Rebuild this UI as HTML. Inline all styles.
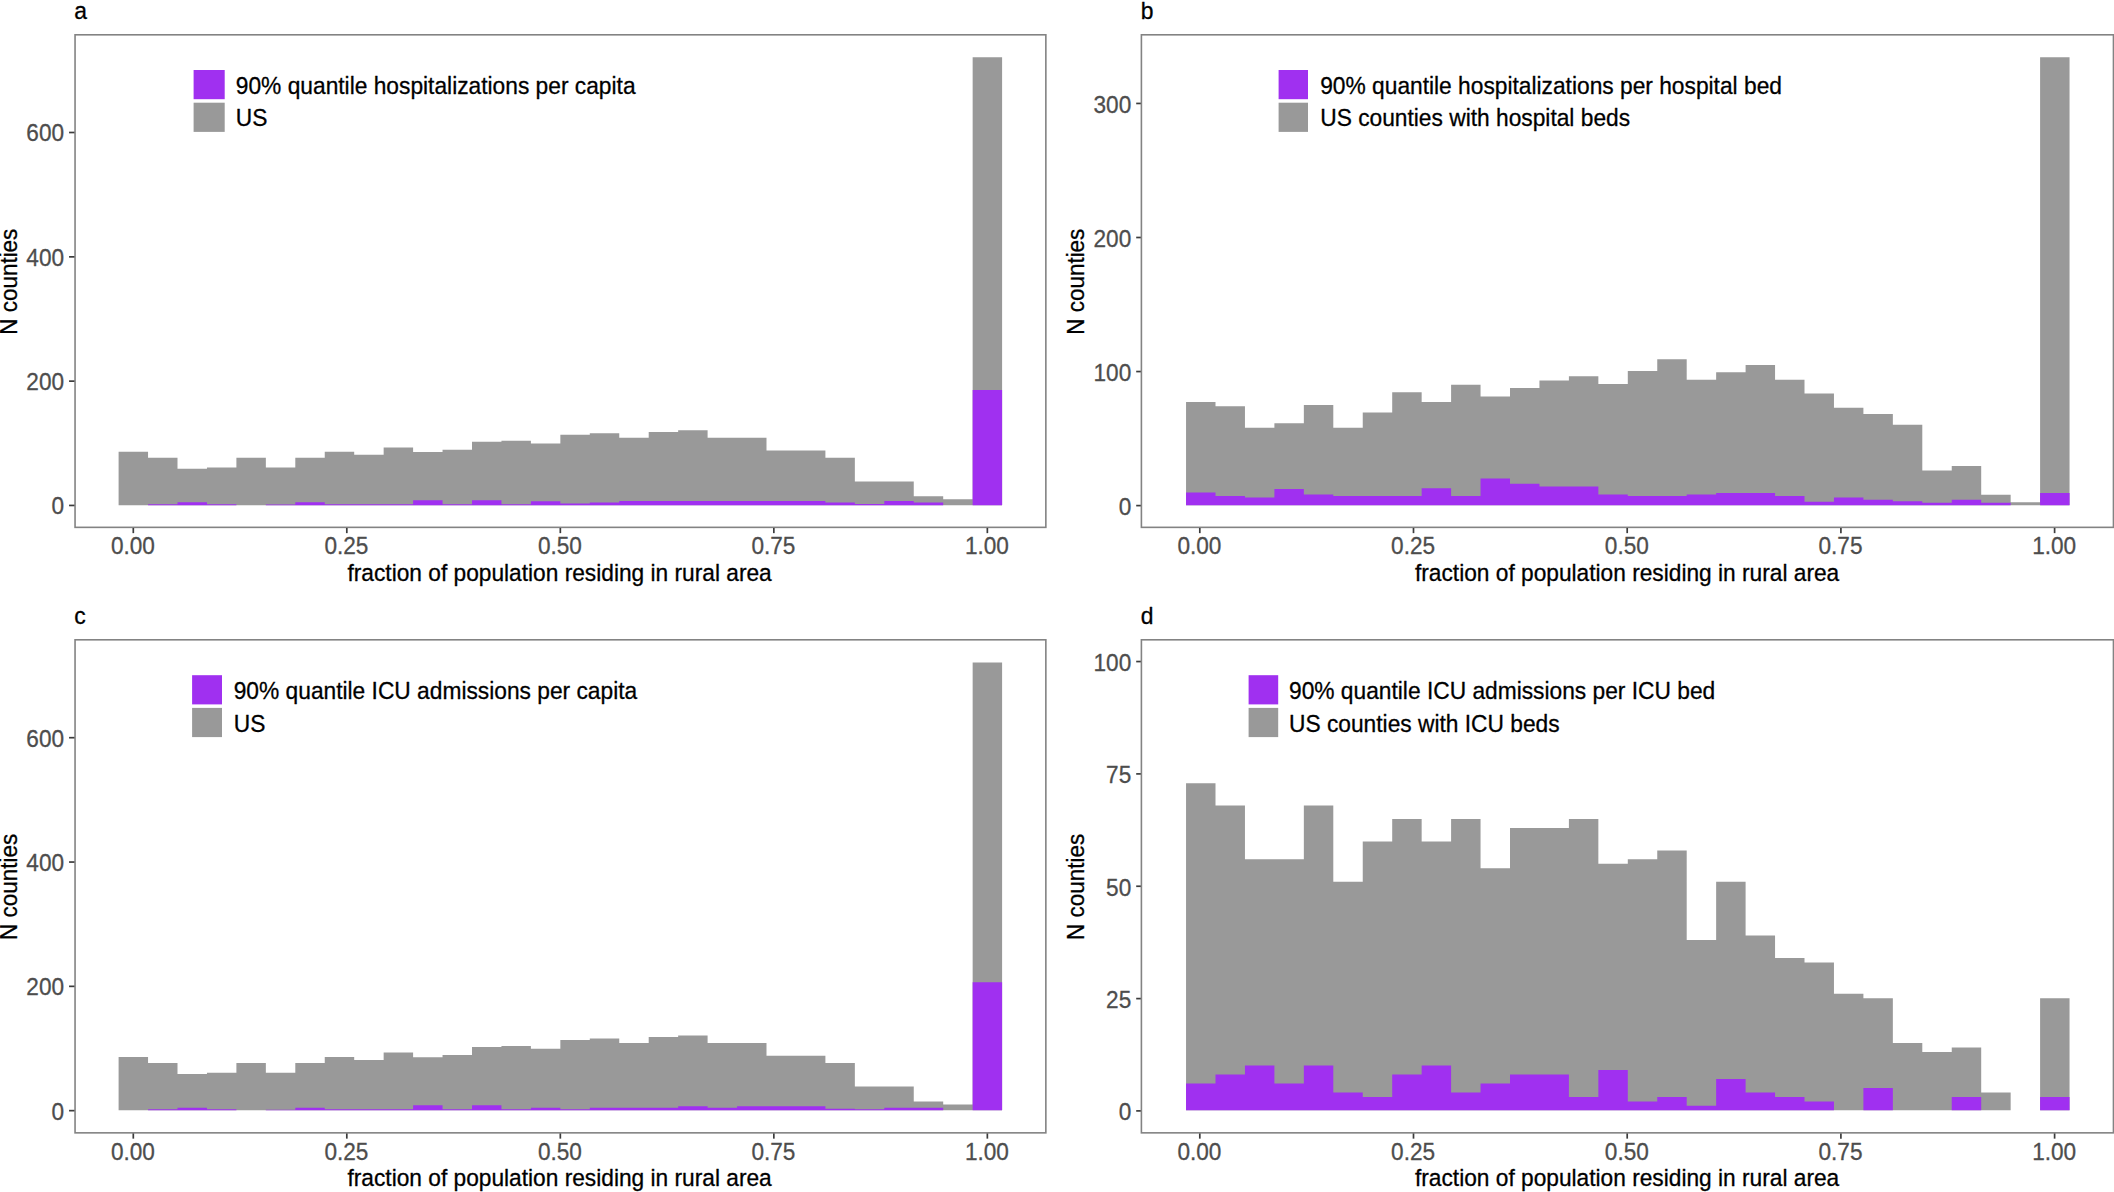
<!DOCTYPE html>
<html lang="en">
<head>
<meta charset="utf-8">
<title>Rural fraction histograms</title>
<style>
html,body{margin:0;padding:0;background:#fff;}
body{width:2114px;height:1192px;overflow:hidden;}
svg{display:block;}
svg text{font-family:"Liberation Sans",Arial,Helvetica,sans-serif;font-size:26.0px;stroke-width:0.3px;stroke-linejoin:round;}
.tick{font-size:24px;}
.leg{font-size:24.6px;}
.xt{font-size:23.5px;}
.yt{font-size:23.8px;}
.let{font-size:23.9px;}
</style>
</head>
<body>
<svg width="2114" height="1192" viewBox="0 0 2114 1192">
<rect width="2114" height="1192" fill="#fff"/>
<g>
<path d="M118.6 505.15 L118.6 451.7 L148.05 451.7 L148.05 457.8 L177.5 457.8 L177.5 468.7 L206.95 468.7 L206.95 467.5 L236.4 467.5 L236.4 457.8 L265.85 457.8 L265.85 467.5 L295.3 467.5 L295.3 457.8 L324.75 457.8 L324.75 451.7 L354.2 451.7 L354.2 454.7 L383.65 454.7 L383.65 447.4 L413.1 447.4 L413.1 452.1 L442.55 452.1 L442.55 449.7 L472 449.7 L472 441.8 L501.45 441.8 L501.45 440.7 L530.9 440.7 L530.9 443.6 L560.35 443.6 L560.35 434.7 L589.8 434.7 L589.8 433.2 L619.25 433.2 L619.25 437.7 L648.7 437.7 L648.7 431.9 L678.15 431.9 L678.15 430.3 L707.6 430.3 L707.6 437.7 L737.05 437.7 L737.05 437.7 L766.5 437.7 L766.5 450.6 L795.95 450.6 L795.95 450.6 L825.4 450.6 L825.4 457.7 L854.85 457.7 L854.85 481.4 L884.3 481.4 L884.3 481.4 L913.75 481.4 L913.75 496.3 L943.2 496.3 L943.2 499.3 L972.65 499.3 L972.65 57.2 L1002.1 57.2 L1002.1 505.15 Z" fill="#999999"/>
<path d="M118.6 505.15 L118.6 505.15 L148.05 505.15 L148.05 504.15 L177.5 504.15 L177.5 502.35 L206.95 502.35 L206.95 504.15 L236.4 504.15 L236.4 505.15 L265.85 505.15 L265.85 504.55 L295.3 504.55 L295.3 502.35 L324.75 502.35 L324.75 504.15 L354.2 504.15 L354.2 504.15 L383.65 504.15 L383.65 504.15 L413.1 504.15 L413.1 500.15 L442.55 500.15 L442.55 504.15 L472 504.15 L472 500.15 L501.45 500.15 L501.45 504.15 L530.9 504.15 L530.9 501.15 L560.35 501.15 L560.35 503.55 L589.8 503.55 L589.8 502.45 L619.25 502.45 L619.25 500.95 L648.7 500.95 L648.7 500.95 L678.15 500.95 L678.15 500.95 L707.6 500.95 L707.6 500.95 L737.05 500.95 L737.05 500.95 L766.5 500.95 L766.5 500.95 L795.95 500.95 L795.95 500.95 L825.4 500.95 L825.4 502.45 L854.85 502.45 L854.85 503.95 L884.3 503.95 L884.3 500.95 L913.75 500.95 L913.75 502.45 L943.2 502.45 L943.2 505.15 L972.65 505.15 L972.65 390.05 L1002.1 390.05 L1002.1 505.15 Z" fill="#a030f0"/>
<rect x="75.05" y="34.8" width="970.8" height="492.55" fill="none" stroke="#838383" stroke-width="1.6"/>
<line x1="69.05" y1="505.45" x2="74.45" y2="505.45" stroke="#3c3c3c" stroke-width="1.7"/>
<text class="tick" transform="translate(64.05 514.35) scale(0.9417 1)" text-anchor="end" fill="#4d4d4d" stroke="#4d4d4d">0</text>
<line x1="69.05" y1="381.15" x2="74.45" y2="381.15" stroke="#3c3c3c" stroke-width="1.7"/>
<text class="tick" transform="translate(64.05 390.05) scale(0.9417 1)" text-anchor="end" fill="#4d4d4d" stroke="#4d4d4d">200</text>
<line x1="69.05" y1="256.85" x2="74.45" y2="256.85" stroke="#3c3c3c" stroke-width="1.7"/>
<text class="tick" transform="translate(64.05 265.75) scale(0.9417 1)" text-anchor="end" fill="#4d4d4d" stroke="#4d4d4d">400</text>
<line x1="69.05" y1="132.5" x2="74.45" y2="132.5" stroke="#3c3c3c" stroke-width="1.7"/>
<text class="tick" transform="translate(64.05 141.4) scale(0.9417 1)" text-anchor="end" fill="#4d4d4d" stroke="#4d4d4d">600</text>
<line x1="133.3" y1="527.95" x2="133.3" y2="533.15" stroke="#3c3c3c" stroke-width="1.7"/>
<text class="tick" transform="translate(132.9 554) scale(0.9417 1)" text-anchor="middle" fill="#4d4d4d" stroke="#4d4d4d">0.00</text>
<line x1="346.81" y1="527.95" x2="346.81" y2="533.15" stroke="#3c3c3c" stroke-width="1.7"/>
<text class="tick" transform="translate(346.41 554) scale(0.9417 1)" text-anchor="middle" fill="#4d4d4d" stroke="#4d4d4d">0.25</text>
<line x1="560.33" y1="527.95" x2="560.33" y2="533.15" stroke="#3c3c3c" stroke-width="1.7"/>
<text class="tick" transform="translate(559.93 554) scale(0.9417 1)" text-anchor="middle" fill="#4d4d4d" stroke="#4d4d4d">0.50</text>
<line x1="773.84" y1="527.95" x2="773.84" y2="533.15" stroke="#3c3c3c" stroke-width="1.7"/>
<text class="tick" transform="translate(773.44 554) scale(0.9417 1)" text-anchor="middle" fill="#4d4d4d" stroke="#4d4d4d">0.75</text>
<line x1="987.35" y1="527.95" x2="987.35" y2="533.15" stroke="#3c3c3c" stroke-width="1.7"/>
<text class="tick" transform="translate(986.95 554) scale(0.9417 1)" text-anchor="middle" fill="#4d4d4d" stroke="#4d4d4d">1.00</text>
<text class="xt" transform="translate(559.6 580.8) scale(0.9668 1)" text-anchor="middle" fill="#000" stroke="#000">fraction of population residing in rural area</text>
<text class="yt" transform="translate(17 281.7) rotate(-90) scale(0.9433 1)" text-anchor="middle" fill="#000" stroke="#000">N counties</text>
<text class="let" transform="translate(74.2 18.6) scale(0.9582 1)" fill="#000" stroke="#000">a</text>
<rect x="193.6" y="70" width="31.1" height="29.2" fill="#a030f0"/>
<rect x="193.6" y="102.7" width="31.1" height="29.2" fill="#999999"/>
<text class="leg" transform="translate(235.8 94.2) scale(0.9256 1)" fill="#000" stroke="#000">90% quantile hospitalizations per capita</text>
<text class="leg" transform="translate(235.8 126.4) scale(0.9256 1)" fill="#000" stroke="#000">US</text>
</g>
<g>
<path d="M1186.05 505.15 L1186.05 402.1 L1215.5 402.1 L1215.5 406.3 L1244.95 406.3 L1244.95 427.8 L1274.4 427.8 L1274.4 423.3 L1303.85 423.3 L1303.85 405.1 L1333.3 405.1 L1333.3 427.8 L1362.75 427.8 L1362.75 412.4 L1392.2 412.4 L1392.2 392.2 L1421.65 392.2 L1421.65 402.1 L1451.1 402.1 L1451.1 384.7 L1480.55 384.7 L1480.55 396.5 L1510 396.5 L1510 388.1 L1539.45 388.1 L1539.45 380.6 L1568.9 380.6 L1568.9 376.3 L1598.35 376.3 L1598.35 383.9 L1627.8 383.9 L1627.8 371 L1657.25 371 L1657.25 359.2 L1686.7 359.2 L1686.7 379.7 L1716.15 379.7 L1716.15 372.2 L1745.6 372.2 L1745.6 365 L1775.05 365 L1775.05 379.7 L1804.5 379.7 L1804.5 393.4 L1833.95 393.4 L1833.95 407.8 L1863.4 407.8 L1863.4 413.9 L1892.85 413.9 L1892.85 424.8 L1922.3 424.8 L1922.3 470.5 L1951.75 470.5 L1951.75 466.1 L1981.2 466.1 L1981.2 494.7 L2010.65 494.7 L2010.65 502.3 L2040.1 502.3 L2040.1 57.2 L2069.55 57.2 L2069.55 505.15 Z" fill="#999999"/>
<path d="M1186.05 505.15 L1186.05 492.6 L1215.5 492.6 L1215.5 495.9 L1244.95 495.9 L1244.95 497.4 L1274.4 497.4 L1274.4 489.1 L1303.85 489.1 L1303.85 494.4 L1333.3 494.4 L1333.3 495.9 L1362.75 495.9 L1362.75 495.9 L1392.2 495.9 L1392.2 495.9 L1421.65 495.9 L1421.65 488.3 L1451.1 488.3 L1451.1 495.9 L1480.55 495.9 L1480.55 478.5 L1510 478.5 L1510 483.8 L1539.45 483.8 L1539.45 486.4 L1568.9 486.4 L1568.9 486.4 L1598.35 486.4 L1598.35 494.4 L1627.8 494.4 L1627.8 495.9 L1657.25 495.9 L1657.25 495.9 L1686.7 495.9 L1686.7 494.4 L1716.15 494.4 L1716.15 492.9 L1745.6 492.9 L1745.6 492.9 L1775.05 492.9 L1775.05 495.9 L1804.5 495.9 L1804.5 501.7 L1833.95 501.7 L1833.95 497.4 L1863.4 497.4 L1863.4 499.7 L1892.85 499.7 L1892.85 501.2 L1922.3 501.2 L1922.3 502.7 L1951.75 502.7 L1951.75 499.7 L1981.2 499.7 L1981.2 502.7 L2010.65 502.7 L2010.65 505.15 L2040.1 505.15 L2040.1 492.9 L2069.55 492.9 L2069.55 505.15 Z" fill="#a030f0"/>
<rect x="1141.4" y="34.8" width="972.05" height="492.55" fill="none" stroke="#838383" stroke-width="1.6"/>
<line x1="1136.2" y1="505.6" x2="1140.8" y2="505.6" stroke="#3c3c3c" stroke-width="1.7"/>
<text class="tick" transform="translate(1131.25 515.1) scale(0.9417 1)" text-anchor="end" fill="#4d4d4d" stroke="#4d4d4d">0</text>
<line x1="1136.2" y1="371.55" x2="1140.8" y2="371.55" stroke="#3c3c3c" stroke-width="1.7"/>
<text class="tick" transform="translate(1131.25 381.05) scale(0.9417 1)" text-anchor="end" fill="#4d4d4d" stroke="#4d4d4d">100</text>
<line x1="1136.2" y1="237.5" x2="1140.8" y2="237.5" stroke="#3c3c3c" stroke-width="1.7"/>
<text class="tick" transform="translate(1131.25 247) scale(0.9417 1)" text-anchor="end" fill="#4d4d4d" stroke="#4d4d4d">200</text>
<line x1="1136.2" y1="103.45" x2="1140.8" y2="103.45" stroke="#3c3c3c" stroke-width="1.7"/>
<text class="tick" transform="translate(1131.25 112.95) scale(0.9417 1)" text-anchor="end" fill="#4d4d4d" stroke="#4d4d4d">300</text>
<line x1="1199.8" y1="527.95" x2="1199.8" y2="533.15" stroke="#3c3c3c" stroke-width="1.7"/>
<text class="tick" transform="translate(1199.4 554) scale(0.9417 1)" text-anchor="middle" fill="#4d4d4d" stroke="#4d4d4d">0.00</text>
<line x1="1413.5" y1="527.95" x2="1413.5" y2="533.15" stroke="#3c3c3c" stroke-width="1.7"/>
<text class="tick" transform="translate(1413.1 554) scale(0.9417 1)" text-anchor="middle" fill="#4d4d4d" stroke="#4d4d4d">0.25</text>
<line x1="1627.2" y1="527.95" x2="1627.2" y2="533.15" stroke="#3c3c3c" stroke-width="1.7"/>
<text class="tick" transform="translate(1626.8 554) scale(0.9417 1)" text-anchor="middle" fill="#4d4d4d" stroke="#4d4d4d">0.50</text>
<line x1="1840.9" y1="527.95" x2="1840.9" y2="533.15" stroke="#3c3c3c" stroke-width="1.7"/>
<text class="tick" transform="translate(1840.5 554) scale(0.9417 1)" text-anchor="middle" fill="#4d4d4d" stroke="#4d4d4d">0.75</text>
<line x1="2054.6" y1="527.95" x2="2054.6" y2="533.15" stroke="#3c3c3c" stroke-width="1.7"/>
<text class="tick" transform="translate(2054.2 554) scale(0.9417 1)" text-anchor="middle" fill="#4d4d4d" stroke="#4d4d4d">1.00</text>
<text class="xt" transform="translate(1627.1 580.8) scale(0.9668 1)" text-anchor="middle" fill="#000" stroke="#000">fraction of population residing in rural area</text>
<text class="yt" transform="translate(1083.6 281.7) rotate(-90) scale(0.9433 1)" text-anchor="middle" fill="#000" stroke="#000">N counties</text>
<text class="let" transform="translate(1140.8 18.6) scale(0.9582 1)" fill="#000" stroke="#000">b</text>
<rect x="1278.6" y="70" width="29.4" height="29.2" fill="#a030f0"/>
<rect x="1278.6" y="102.7" width="29.4" height="29.2" fill="#999999"/>
<text class="leg" transform="translate(1320.2 94.2) scale(0.9256 1)" fill="#000" stroke="#000">90% quantile hospitalizations per hospital bed</text>
<text class="leg" transform="translate(1320.2 126.4) scale(0.9256 1)" fill="#000" stroke="#000">US counties with hospital beds</text>
</g>
<g>
<path d="M118.6 1110.35 L118.6 1056.9 L148.05 1056.9 L148.05 1063 L177.5 1063 L177.5 1073.9 L206.95 1073.9 L206.95 1072.7 L236.4 1072.7 L236.4 1063 L265.85 1063 L265.85 1072.7 L295.3 1072.7 L295.3 1063 L324.75 1063 L324.75 1056.9 L354.2 1056.9 L354.2 1059.9 L383.65 1059.9 L383.65 1052.6 L413.1 1052.6 L413.1 1057.3 L442.55 1057.3 L442.55 1054.9 L472 1054.9 L472 1047 L501.45 1047 L501.45 1045.9 L530.9 1045.9 L530.9 1048.8 L560.35 1048.8 L560.35 1039.9 L589.8 1039.9 L589.8 1038.4 L619.25 1038.4 L619.25 1042.9 L648.7 1042.9 L648.7 1037.1 L678.15 1037.1 L678.15 1035.5 L707.6 1035.5 L707.6 1042.9 L737.05 1042.9 L737.05 1042.9 L766.5 1042.9 L766.5 1055.8 L795.95 1055.8 L795.95 1055.8 L825.4 1055.8 L825.4 1062.9 L854.85 1062.9 L854.85 1086.6 L884.3 1086.6 L884.3 1086.6 L913.75 1086.6 L913.75 1101.5 L943.2 1101.5 L943.2 1104.5 L972.65 1104.5 L972.65 662.4 L1002.1 662.4 L1002.1 1110.35 Z" fill="#999999"/>
<path d="M118.6 1110.35 L118.6 1110.35 L148.05 1110.35 L148.05 1109.35 L177.5 1109.35 L177.5 1107.75 L206.95 1107.75 L206.95 1109.35 L236.4 1109.35 L236.4 1110.35 L265.85 1110.35 L265.85 1109.75 L295.3 1109.75 L295.3 1107.75 L324.75 1107.75 L324.75 1109.35 L354.2 1109.35 L354.2 1109.35 L383.65 1109.35 L383.65 1109.35 L413.1 1109.35 L413.1 1105.35 L442.55 1105.35 L442.55 1109.35 L472 1109.35 L472 1105.35 L501.45 1105.35 L501.45 1109.35 L530.9 1109.35 L530.9 1107.75 L560.35 1107.75 L560.35 1109.35 L589.8 1109.35 L589.8 1107.75 L619.25 1107.75 L619.25 1107.75 L648.7 1107.75 L648.7 1107.75 L678.15 1107.75 L678.15 1106.35 L707.6 1106.35 L707.6 1107.75 L737.05 1107.75 L737.05 1106.35 L766.5 1106.35 L766.5 1106.35 L795.95 1106.35 L795.95 1106.35 L825.4 1106.35 L825.4 1108.75 L854.85 1108.75 L854.85 1109.35 L884.3 1109.35 L884.3 1107.75 L913.75 1107.75 L913.75 1107.75 L943.2 1107.75 L943.2 1110.35 L972.65 1110.35 L972.65 982.25 L1002.1 982.25 L1002.1 1110.35 Z" fill="#a030f0"/>
<rect x="75.05" y="639.8" width="970.8" height="493.05" fill="none" stroke="#838383" stroke-width="1.6"/>
<line x1="69.05" y1="1110.65" x2="74.45" y2="1110.65" stroke="#3c3c3c" stroke-width="1.7"/>
<text class="tick" transform="translate(64.05 1119.55) scale(0.9417 1)" text-anchor="end" fill="#4d4d4d" stroke="#4d4d4d">0</text>
<line x1="69.05" y1="986.35" x2="74.45" y2="986.35" stroke="#3c3c3c" stroke-width="1.7"/>
<text class="tick" transform="translate(64.05 995.25) scale(0.9417 1)" text-anchor="end" fill="#4d4d4d" stroke="#4d4d4d">200</text>
<line x1="69.05" y1="862.05" x2="74.45" y2="862.05" stroke="#3c3c3c" stroke-width="1.7"/>
<text class="tick" transform="translate(64.05 870.95) scale(0.9417 1)" text-anchor="end" fill="#4d4d4d" stroke="#4d4d4d">400</text>
<line x1="69.05" y1="737.7" x2="74.45" y2="737.7" stroke="#3c3c3c" stroke-width="1.7"/>
<text class="tick" transform="translate(64.05 746.6) scale(0.9417 1)" text-anchor="end" fill="#4d4d4d" stroke="#4d4d4d">600</text>
<line x1="133.3" y1="1133.45" x2="133.3" y2="1138.65" stroke="#3c3c3c" stroke-width="1.7"/>
<text class="tick" transform="translate(132.9 1159.6) scale(0.9417 1)" text-anchor="middle" fill="#4d4d4d" stroke="#4d4d4d">0.00</text>
<line x1="346.81" y1="1133.45" x2="346.81" y2="1138.65" stroke="#3c3c3c" stroke-width="1.7"/>
<text class="tick" transform="translate(346.41 1159.6) scale(0.9417 1)" text-anchor="middle" fill="#4d4d4d" stroke="#4d4d4d">0.25</text>
<line x1="560.33" y1="1133.45" x2="560.33" y2="1138.65" stroke="#3c3c3c" stroke-width="1.7"/>
<text class="tick" transform="translate(559.93 1159.6) scale(0.9417 1)" text-anchor="middle" fill="#4d4d4d" stroke="#4d4d4d">0.50</text>
<line x1="773.84" y1="1133.45" x2="773.84" y2="1138.65" stroke="#3c3c3c" stroke-width="1.7"/>
<text class="tick" transform="translate(773.44 1159.6) scale(0.9417 1)" text-anchor="middle" fill="#4d4d4d" stroke="#4d4d4d">0.75</text>
<line x1="987.35" y1="1133.45" x2="987.35" y2="1138.65" stroke="#3c3c3c" stroke-width="1.7"/>
<text class="tick" transform="translate(986.95 1159.6) scale(0.9417 1)" text-anchor="middle" fill="#4d4d4d" stroke="#4d4d4d">1.00</text>
<text class="xt" transform="translate(559.6 1186) scale(0.9668 1)" text-anchor="middle" fill="#000" stroke="#000">fraction of population residing in rural area</text>
<text class="yt" transform="translate(17 886.9) rotate(-90) scale(0.9433 1)" text-anchor="middle" fill="#000" stroke="#000">N counties</text>
<text class="let" transform="translate(74.2 623.8) scale(0.9582 1)" fill="#000" stroke="#000">c</text>
<rect x="192.1" y="675.2" width="29.9" height="29.2" fill="#a030f0"/>
<rect x="192.1" y="707.9" width="29.9" height="29.2" fill="#999999"/>
<text class="leg" transform="translate(233.7 699.4) scale(0.9256 1)" fill="#000" stroke="#000">90% quantile ICU admissions per capita</text>
<text class="leg" transform="translate(233.7 731.6) scale(0.9256 1)" fill="#000" stroke="#000">US</text>
</g>
<g>
<path d="M1186.05 1110.35 L1186.05 783.16 L1215.5 783.16 L1215.5 805.57 L1244.95 805.57 L1244.95 859.36 L1274.4 859.36 L1274.4 859.36 L1303.85 859.36 L1303.85 805.57 L1333.3 805.57 L1333.3 881.77 L1362.75 881.77 L1362.75 841.43 L1392.2 841.43 L1392.2 819.02 L1421.65 819.02 L1421.65 841.43 L1451.1 841.43 L1451.1 819.02 L1480.55 819.02 L1480.55 868.32 L1510 868.32 L1510 827.98 L1539.45 827.98 L1539.45 827.98 L1568.9 827.98 L1568.9 819.02 L1598.35 819.02 L1598.35 863.84 L1627.8 863.84 L1627.8 859.36 L1657.25 859.36 L1657.25 850.39 L1686.7 850.39 L1686.7 940.03 L1716.15 940.03 L1716.15 881.77 L1745.6 881.77 L1745.6 935.55 L1775.05 935.55 L1775.05 957.96 L1804.5 957.96 L1804.5 962.44 L1833.95 962.44 L1833.95 993.82 L1863.4 993.82 L1863.4 998.3 L1892.85 998.3 L1892.85 1043.12 L1922.3 1043.12 L1922.3 1052.08 L1951.75 1052.08 L1951.75 1047.6 L1981.2 1047.6 L1981.2 1092.42 L2010.65 1092.42 L2010.65 1110.35 L2040.1 1110.35 L2040.1 998.3 L2069.55 998.3 L2069.55 1110.35 Z" fill="#999999"/>
<path d="M1186.05 1110.35 L1186.05 1083.46 L1215.5 1083.46 L1215.5 1074.49 L1244.95 1074.49 L1244.95 1065.53 L1274.4 1065.53 L1274.4 1083.46 L1303.85 1083.46 L1303.85 1065.53 L1333.3 1065.53 L1333.3 1092.42 L1362.75 1092.42 L1362.75 1096.9 L1392.2 1096.9 L1392.2 1074.49 L1421.65 1074.49 L1421.65 1065.53 L1451.1 1065.53 L1451.1 1092.42 L1480.55 1092.42 L1480.55 1083.46 L1510 1083.46 L1510 1074.49 L1539.45 1074.49 L1539.45 1074.49 L1568.9 1074.49 L1568.9 1096.9 L1598.35 1096.9 L1598.35 1070.01 L1627.8 1070.01 L1627.8 1101.39 L1657.25 1101.39 L1657.25 1096.9 L1686.7 1096.9 L1686.7 1105.87 L1716.15 1105.87 L1716.15 1078.98 L1745.6 1078.98 L1745.6 1092.42 L1775.05 1092.42 L1775.05 1096.9 L1804.5 1096.9 L1804.5 1101.39 L1833.95 1101.39 L1833.95 1110.35 L1863.4 1110.35 L1863.4 1087.94 L1892.85 1087.94 L1892.85 1110.35 L1922.3 1110.35 L1922.3 1110.35 L1951.75 1110.35 L1951.75 1096.9 L1981.2 1096.9 L1981.2 1110.35 L2010.65 1110.35 L2010.65 1110.35 L2040.1 1110.35 L2040.1 1096.9 L2069.55 1096.9 L2069.55 1110.35 Z" fill="#a030f0"/>
<rect x="1141.4" y="639.8" width="972.05" height="493.05" fill="none" stroke="#838383" stroke-width="1.6"/>
<line x1="1136.2" y1="1110.9" x2="1140.8" y2="1110.9" stroke="#3c3c3c" stroke-width="1.7"/>
<text class="tick" transform="translate(1131.25 1120.4) scale(0.9417 1)" text-anchor="end" fill="#4d4d4d" stroke="#4d4d4d">0</text>
<line x1="1136.2" y1="998.6" x2="1140.8" y2="998.6" stroke="#3c3c3c" stroke-width="1.7"/>
<text class="tick" transform="translate(1131.25 1008.1) scale(0.9417 1)" text-anchor="end" fill="#4d4d4d" stroke="#4d4d4d">25</text>
<line x1="1136.2" y1="886.25" x2="1140.8" y2="886.25" stroke="#3c3c3c" stroke-width="1.7"/>
<text class="tick" transform="translate(1131.25 895.75) scale(0.9417 1)" text-anchor="end" fill="#4d4d4d" stroke="#4d4d4d">50</text>
<line x1="1136.2" y1="773.9" x2="1140.8" y2="773.9" stroke="#3c3c3c" stroke-width="1.7"/>
<text class="tick" transform="translate(1131.25 783.4) scale(0.9417 1)" text-anchor="end" fill="#4d4d4d" stroke="#4d4d4d">75</text>
<line x1="1136.2" y1="661.55" x2="1140.8" y2="661.55" stroke="#3c3c3c" stroke-width="1.7"/>
<text class="tick" transform="translate(1131.25 671.05) scale(0.9417 1)" text-anchor="end" fill="#4d4d4d" stroke="#4d4d4d">100</text>
<line x1="1199.8" y1="1133.45" x2="1199.8" y2="1138.65" stroke="#3c3c3c" stroke-width="1.7"/>
<text class="tick" transform="translate(1199.4 1159.6) scale(0.9417 1)" text-anchor="middle" fill="#4d4d4d" stroke="#4d4d4d">0.00</text>
<line x1="1413.5" y1="1133.45" x2="1413.5" y2="1138.65" stroke="#3c3c3c" stroke-width="1.7"/>
<text class="tick" transform="translate(1413.1 1159.6) scale(0.9417 1)" text-anchor="middle" fill="#4d4d4d" stroke="#4d4d4d">0.25</text>
<line x1="1627.2" y1="1133.45" x2="1627.2" y2="1138.65" stroke="#3c3c3c" stroke-width="1.7"/>
<text class="tick" transform="translate(1626.8 1159.6) scale(0.9417 1)" text-anchor="middle" fill="#4d4d4d" stroke="#4d4d4d">0.50</text>
<line x1="1840.9" y1="1133.45" x2="1840.9" y2="1138.65" stroke="#3c3c3c" stroke-width="1.7"/>
<text class="tick" transform="translate(1840.5 1159.6) scale(0.9417 1)" text-anchor="middle" fill="#4d4d4d" stroke="#4d4d4d">0.75</text>
<line x1="2054.6" y1="1133.45" x2="2054.6" y2="1138.65" stroke="#3c3c3c" stroke-width="1.7"/>
<text class="tick" transform="translate(2054.2 1159.6) scale(0.9417 1)" text-anchor="middle" fill="#4d4d4d" stroke="#4d4d4d">1.00</text>
<text class="xt" transform="translate(1627.1 1186) scale(0.9668 1)" text-anchor="middle" fill="#000" stroke="#000">fraction of population residing in rural area</text>
<text class="yt" transform="translate(1083.6 886.9) rotate(-90) scale(0.9433 1)" text-anchor="middle" fill="#000" stroke="#000">N counties</text>
<text class="let" transform="translate(1140.8 623.8) scale(0.9582 1)" fill="#000" stroke="#000">d</text>
<rect x="1248.6" y="675.2" width="29.6" height="29.2" fill="#a030f0"/>
<rect x="1248.6" y="707.9" width="29.6" height="29.2" fill="#999999"/>
<text class="leg" transform="translate(1289 699.4) scale(0.9256 1)" fill="#000" stroke="#000">90% quantile ICU admissions per ICU bed</text>
<text class="leg" transform="translate(1289 731.6) scale(0.9256 1)" fill="#000" stroke="#000">US counties with ICU beds</text>
</g>
</svg>
</body>
</html>
